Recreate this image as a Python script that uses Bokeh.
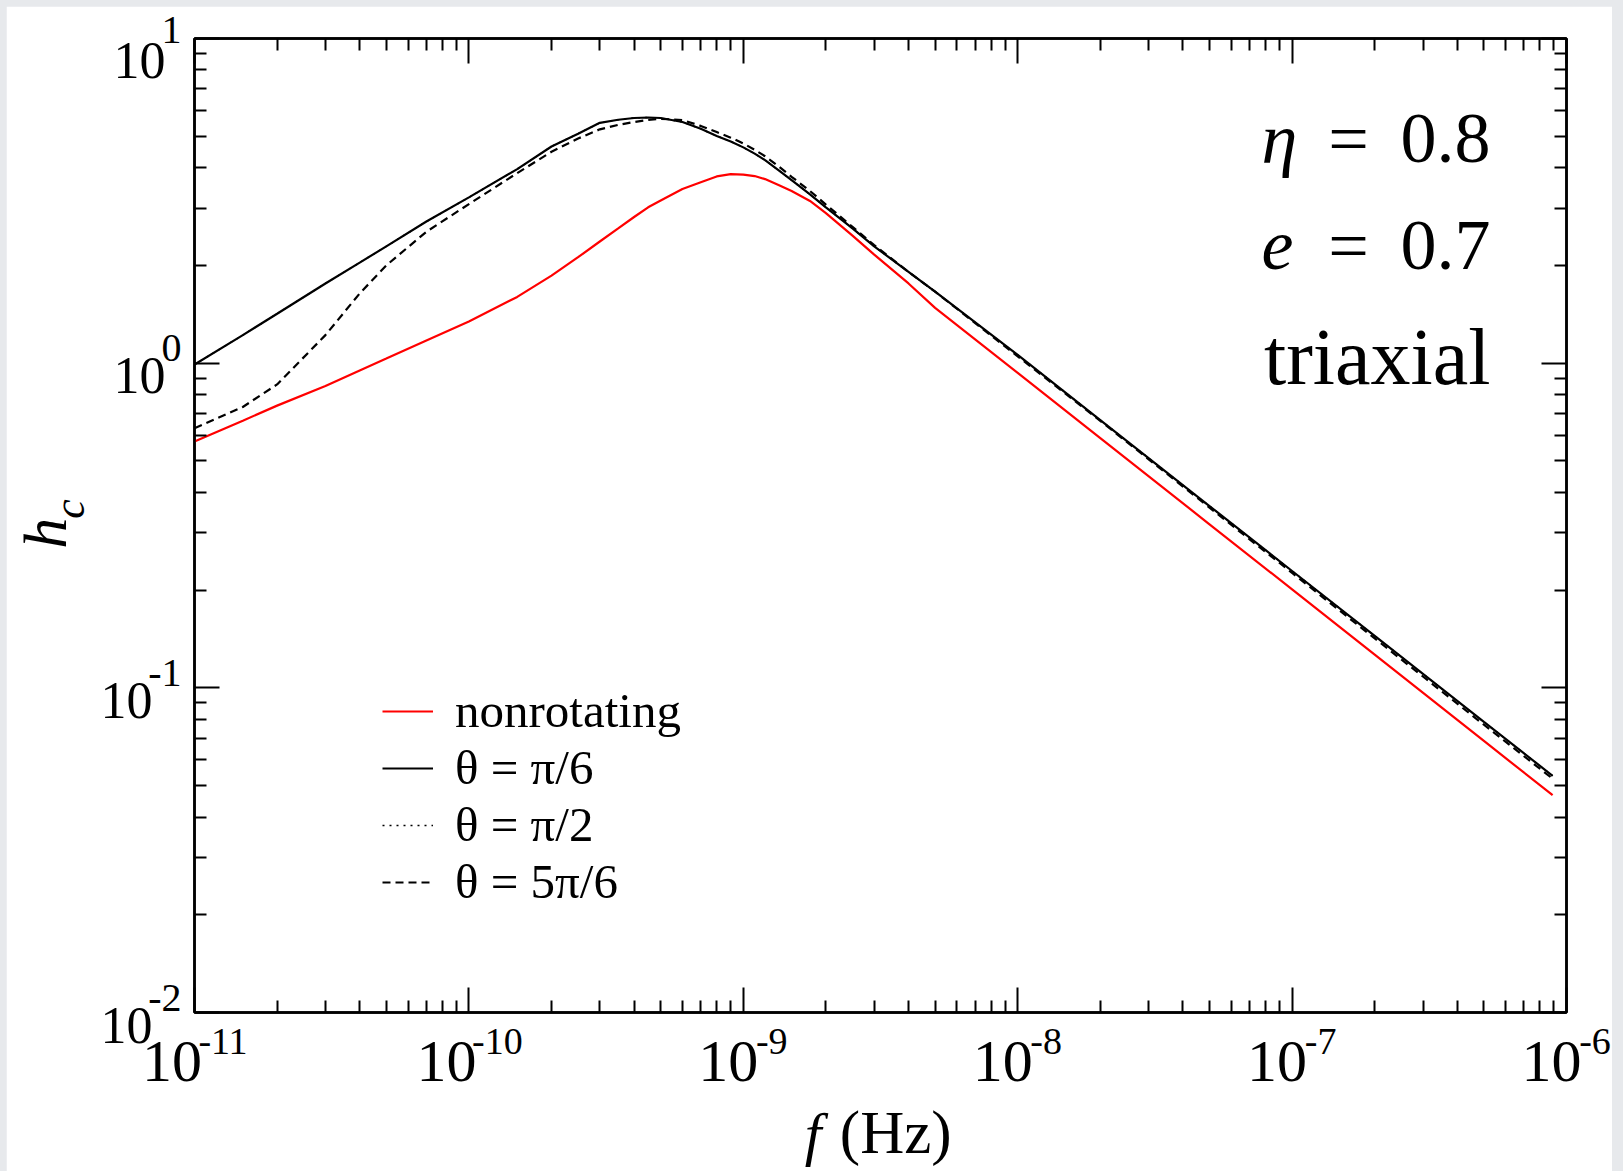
import math
from bokeh.plotting import figure
from bokeh.layouts import column
from bokeh.models import (LogAxis, FixedTicker, Label, Legend, LegendItem,
                          Range1d, CustomJSTickFormatter)
from bokeh.embed import file_html
from bokeh.resources import INLINE

# ---------------- data ----------------
freq = [1.0e-11, 1.5e-11, 2.0e-11, 3.0e-11, 4.0e-11, 5.0e-11, 7.0e-11,
        1.0e-10, 1.5e-10, 2.0e-10, 2.5e-10, 3.0e-10, 3.5e-10, 4.0e-10,
        4.5e-10, 5.0e-10, 6.0e-10, 7.0e-10, 8.0e-10, 9.0e-10, 1.0e-9,
        1.1e-9, 1.2e-9, 1.35e-9, 1.5e-9, 1.75e-9, 2.0e-9, 2.5e-9, 3.0e-9,
        4.0e-9, 5.0e-9, 1.0e-8, 2.0e-8, 5.0e-8, 1.0e-7, 2.0e-7, 5.0e-7,
        8.9e-7]

hc_nonrotating = [0.574, 0.665, 0.74, 0.85, 0.95, 1.033, 1.175,
                  1.343, 1.60, 1.86, 2.12, 2.37, 2.60, 2.82,
                  3.02, 3.17, 3.44, 3.61, 3.76, 3.82, 3.81,
                  3.77, 3.69, 3.53, 3.39, 3.16, 2.90, 2.47, 2.16,
                  1.76, 1.48, 0.933, 0.588, 0.319, 0.201, 0.1265, 0.0686,
                  0.0467]

hc_theta_pi6 = [0.99, 1.22, 1.42, 1.76, 2.04, 2.29, 2.73,
                3.24, 3.96, 4.65, 5.09, 5.50, 5.62, 5.69,
                5.71, 5.69, 5.53, 5.27, 5.01, 4.82, 4.62,
                4.42, 4.22, 3.92, 3.66, 3.31, 3.02, 2.60, 2.29,
                1.91, 1.66, 1.06, 0.668, 0.363, 0.229, 0.1445, 0.0785,
                0.0536]

hc_theta_pi2 = [0.99, 1.22, 1.42, 1.76, 2.04, 2.29, 2.73,
                3.24, 3.96, 4.65, 5.09, 5.50, 5.62, 5.69,
                5.71, 5.69, 5.53, 5.27, 5.01, 4.82, 4.62,
                4.42, 4.22, 3.92, 3.66, 3.31, 3.02, 2.60, 2.29,
                1.91, 1.66, 1.06, 0.668, 0.363, 0.229, 0.1445, 0.0785,
                0.0536]

hc_theta_5pi6 = [0.63, 0.733, 0.86, 1.22, 1.64, 2.00, 2.54,
                 3.09, 3.85, 4.48, 4.92, 5.25, 5.42, 5.53,
                 5.61, 5.66, 5.61, 5.38, 5.15, 4.95, 4.75,
                 4.54, 4.34, 4.03, 3.75, 3.39, 3.08, 2.63, 2.31,
                 1.91, 1.66, 1.05, 0.664, 0.359, 0.226, 0.142, 0.077,
                 0.0525]

x_major = [1e-11, 1e-10, 1e-9, 1e-8, 1e-7, 1e-6]
x_exponents = ["-11", "-10", "-9", "-8", "-7", "-6"]
y_major = [1e-2, 1e-1, 1e0, 1e1]
y_exponents = ["-2", "-1", "0", "1"]
tick_base = "10"

legend_labels = ["nonrotating", "θ = π/6", "θ = π/2", "θ = 5π/6"]
param_lines = [("η", "0.8"), ("e", "0.7")]
model_label = "triaxial"
x_title = ("f", "(Hz)")
y_title = ("h", "c")

# ---------------- figure ----------------
FONT = "Liberation Serif"
NB = "\u00a0"
XF10, XFE = 60, 38     # x tick labels: "10" and exponent sizes
YF10, YFE = 52, 40     # y tick labels

p = figure(width=1606, height=1165, x_axis_type="log", y_axis_type="log",
           x_range=Range1d(1e-11, 1e-6), y_range=Range1d(1e-2, 1e1),
           output_backend="svg", toolbar_location=None,
           min_border_left=188, min_border_right=46,
           min_border_top=32, min_border_bottom=159,
           margin=(6, 11, 0, 6))
p.border_fill_color = "white"
p.background_fill_color = "white"
p.outline_line_color = "black"
p.outline_line_width = 2.5
p.xgrid.visible = False
p.ygrid.visible = False

x_minor = [m * 10.0 ** e for e in range(-11, -6) for m in range(2, 10)]
y_minor = [m * 10.0 ** e for e in range(-2, 1) for m in range(2, 10)]


def exp_width(s, size):
    return sum(0.333 if c == "-" else 0.5 for c in s) * size


def tick_axis(ax, major, minor):
    ax.ticker = FixedTicker(ticks=major, minor_ticks=minor)
    ax.major_tick_in = 25
    ax.major_tick_out = 0
    ax.minor_tick_in = 12
    ax.minor_tick_out = 0
    ax.major_tick_line_width = 2
    ax.minor_tick_line_width = 2
    ax.major_tick_line_color = "black"
    ax.minor_tick_line_color = "black"
    ax.axis_line_width = 2.5
    ax.axis_line_color = "black"
    ax.major_label_text_font = FONT
    ax.major_label_text_color = "black"


def text_only_axis(ax, major):
    ax.ticker = FixedTicker(ticks=major, minor_ticks=[])
    ax.axis_line_color = None
    ax.major_tick_line_color = None
    ax.minor_tick_line_color = None
    ax.major_tick_in = 0
    ax.major_tick_out = 0
    ax.minor_tick_in = 0
    ax.minor_tick_out = 0
    ax.major_label_text_font = FONT
    ax.major_label_text_color = "black"
    ax.axis_label_text_font = FONT
    ax.axis_label_text_color = "black"


def blank_labels(ax):
    ax.formatter = CustomJSTickFormatter(code="return ''")
    ax.major_label_text_font_size = "0px"
    ax.major_label_standoff = 0


# bottom: exponents (inner) + "10" (outer) + axis title
xa1 = p.xaxis[0]
tick_axis(xa1, x_major, x_minor)
xa1.major_label_overrides = {v: NB * round(XF10 / (0.25 * XFE)) + e
                             for v, e in zip(x_major, x_exponents)}
xa1.major_label_text_font_size = f"{XFE}px"
xa1.major_label_standoff = 7

xa2 = LogAxis()
text_only_axis(xa2, x_major)
xa2.major_label_overrides = {v: tick_base + NB * round(exp_width(e, XFE) / (0.25 * XF10))
                             for v, e in zip(x_major, x_exponents)}
xa2.major_label_text_font_size = f"{XF10}px"
xa2.major_label_standoff = -37
xa2.axis_label = NB * 2 + x_title[1]
xa2.axis_label_text_font_size = "61px"
xa2.axis_label_text_font_style = "normal"
xa2.axis_label_standoff = 2
p.add_layout(xa2, "below")

xa3 = LogAxis()
text_only_axis(xa3, [])
blank_labels(xa3)
xa3.axis_label = x_title[0] + NB * 9
xa3.axis_label_text_font_size = "60px"
xa3.axis_label_text_font_style = "italic"
xa3.axis_label_standoff = -68
p.add_layout(xa3, "below")

# left: exponents (inner) + "10" (outer) + axis title
ya1 = p.yaxis[0]
tick_axis(ya1, y_major, y_minor)
ya1.major_label_overrides = {v: e + "\n" + NB for v, e in zip(y_major, y_exponents)}
ya1.major_label_text_font_size = f"{YFE}px"
ya1.major_label_text_line_height = 0.68
ya1.major_label_standoff = 13

min_ew = min(exp_width(e, YFE) for e in y_exponents)
ya2 = LogAxis()
text_only_axis(ya2, y_major)
ya2.major_label_overrides = {
    v: NB + "\n" + tick_base + NB * round((exp_width(e, YFE) - min_ew) / (0.25 * YF10))
    for v, e in zip(y_major, y_exponents)}
ya2.major_label_text_font_size = f"{YF10}px"
ya2.major_label_text_line_height = 0.45
ya2.major_label_standoff = -20
ya2.axis_label = NB * 3 + y_title[1]
ya2.axis_label_text_font_size = "44px"
ya2.axis_label_text_font_style = "italic"
ya2.axis_label_standoff = 4
p.add_layout(ya2, "left")

ya3 = LogAxis()
text_only_axis(ya3, [])
blank_labels(ya3)
ya3.axis_label = y_title[0] + NB
ya3.axis_label_text_font_size = "62px"
ya3.axis_label_text_font_style = "italic"
ya3.axis_label_standoff = -37
p.add_layout(ya3, "left")

# mirrored tick marks on top and right
top_ax = LogAxis()
right_ax = LogAxis()
tick_axis(top_ax, x_major, x_minor)
tick_axis(right_ax, y_major, y_minor)
blank_labels(top_ax)
blank_labels(right_ax)
p.add_layout(top_ax, "above")
p.add_layout(right_ax, "right")

# ---------------- curves ----------------
r_pi2 = p.line(freq, hc_theta_pi2, line_color="black", line_width=1.5, line_dash="2 5")
r_red = p.line(freq, hc_nonrotating, line_color="#ff0000", line_width=2.2)
r_5pi6 = p.line(freq, hc_theta_5pi6, line_color="black", line_width=2.2, line_dash="8 5")
r_pi6 = p.line(freq, hc_theta_pi6, line_color="black", line_width=2.2)

legend = Legend(items=[LegendItem(label=legend_labels[0], renderers=[r_red]),
                       LegendItem(label=legend_labels[1], renderers=[r_pi6]),
                       LegendItem(label=legend_labels[2], renderers=[r_pi2]),
                       LegendItem(label=legend_labels[3], renderers=[r_5pi6])],
                location=(188, 102), border_line_color=None,
                background_fill_alpha=0, padding=0, margin=0, spacing=0,
                glyph_width=51, glyph_height=20, label_height=20,
                label_standoff=22, label_text_font=FONT,
                label_text_font_size="49px", label_text_baseline="middle",
                label_text_color="black")
p.add_layout(legend)


# ---------------- in-frame annotation text ----------------
def lab(x, y, text, size, xo=0, yo=0, align="left", style="normal"):
    p.add_layout(Label(x=x, y=y, text=text, x_offset=xo, y_offset=yo,
                       text_font=FONT, text_font_size=f"{size}px",
                       text_font_style=style, text_color="black",
                       text_align=align, text_baseline="alphabetic"))


x_hi, y_hi = 1e-6, 1e1
for i, (sym, val) in enumerate(param_lines):
    yo = [-100, -207][i]
    lab(x_hi, y_hi, sym, 72, xo=1261 - 1566, yo=yo, style="italic")
    lab(x_hi, y_hi, "=", 72, xo=1348 - 1566, yo=yo, align="center")
    lab(x_hi, y_hi, val, 72, xo=1490 - 1566, yo=yo, align="right")
lab(x_hi, y_hi, model_label, 80, xo=1490 - 1566, yo=-318, align="right")

page = column(p, styles={"background-color": "#e7e9ec"})
open("out.html", "w").write(file_html(page, INLINE))
